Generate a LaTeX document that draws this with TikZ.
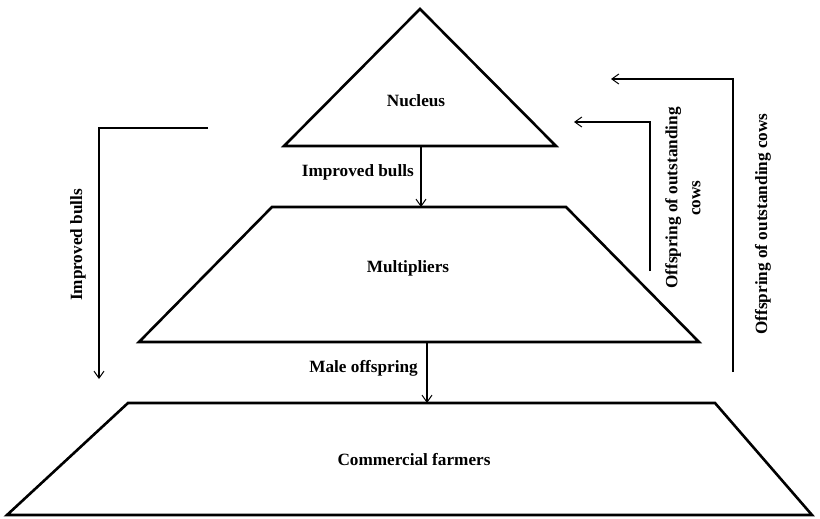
\documentclass[tikz,border=0pt]{standalone}
\usepackage{fontspec}
\setmainfont{Liberation Serif}
\usetikzlibrary{arrows.meta}
\usetikzlibrary{positioning}
\usetikzlibrary{calc}

\begin{document}
\begin{tikzpicture}[x=1pt,y=-1pt,>={Straight Barb[length=7pt,width=10pt,line width=1pt]},
        every node/.append style={align=center},
        lbl/.style={font=\bfseries\fontsize{17.2}{23}\selectfont, inner sep=0pt},
        tier/.style={draw, line width=2.6pt, line join=miter},
        flow/.style={->, line width=2.4pt}]
        \useasboundingbox (0,0) rectangle (820,519);

        % the three tiers
        \draw[tier] (420,9) -- (556,146) -- (284,146) -- cycle;
        \draw[tier] (272,207) -- (566,207) -- (699,342) -- (139,342) -- cycle;
        \draw[tier] (128,403) -- (715,403) -- (812,515) -- (7,515) -- cycle;

        \node [lbl] (N) at (416,101) {Nucleus};
        \node [lbl] (M) at (408,268) {Multipliers};
        \node [lbl] (C) at (414,460) {Commercial farmers};

        % points on the tiers
        \coordinate (Nb) at (421,146);
        \coordinate (Mt) at (421,207);
        \coordinate (Mb) at (427,342);
        \coordinate (Ct) at (427,403);

        \draw[flow] (Nb) -- (Mt);
        \draw[flow] (Mb) -- (Ct);
        \node [lbl, anchor=east] (ib) at (414,172) {Improved bulls};
        \node [lbl, anchor=east] (mo) at (418,368) {Male offspring};

        % bulls straight to the farmers
        \coordinate (Ls) at (208,128);
        \coordinate (Lc) at (99,128);
        \coordinate (Le) at (99,379);
        \draw[flow, line join=miter] (Ls) -- (Lc) -- (Le);
        \node [lbl, rotate=90] (ib2) at (78,245) {Improved bulls};

        % cows back up
        \coordinate (Rs) at (650,271);
        \coordinate (Rc) at (650,122);
        \coordinate (Re) at (574,122);
        \draw[flow, line join=miter] (Rs) -- (Rc) -- (Re);
        \node [lbl, rotate=90] (oc) at (683,198) {Offspring of outstanding\\cows};

        \coordinate (Os) at (733,372);
        \coordinate (Oc) at (733,79);
        \coordinate (Oe) at (611,79);
        \draw[flow, line join=miter] (Os) -- (Oc) -- (Oe);
        \node [lbl, rotate=90] (oc2) at (763,224) {Offspring of outstanding cows};
    \end{tikzpicture}
\end{document}
